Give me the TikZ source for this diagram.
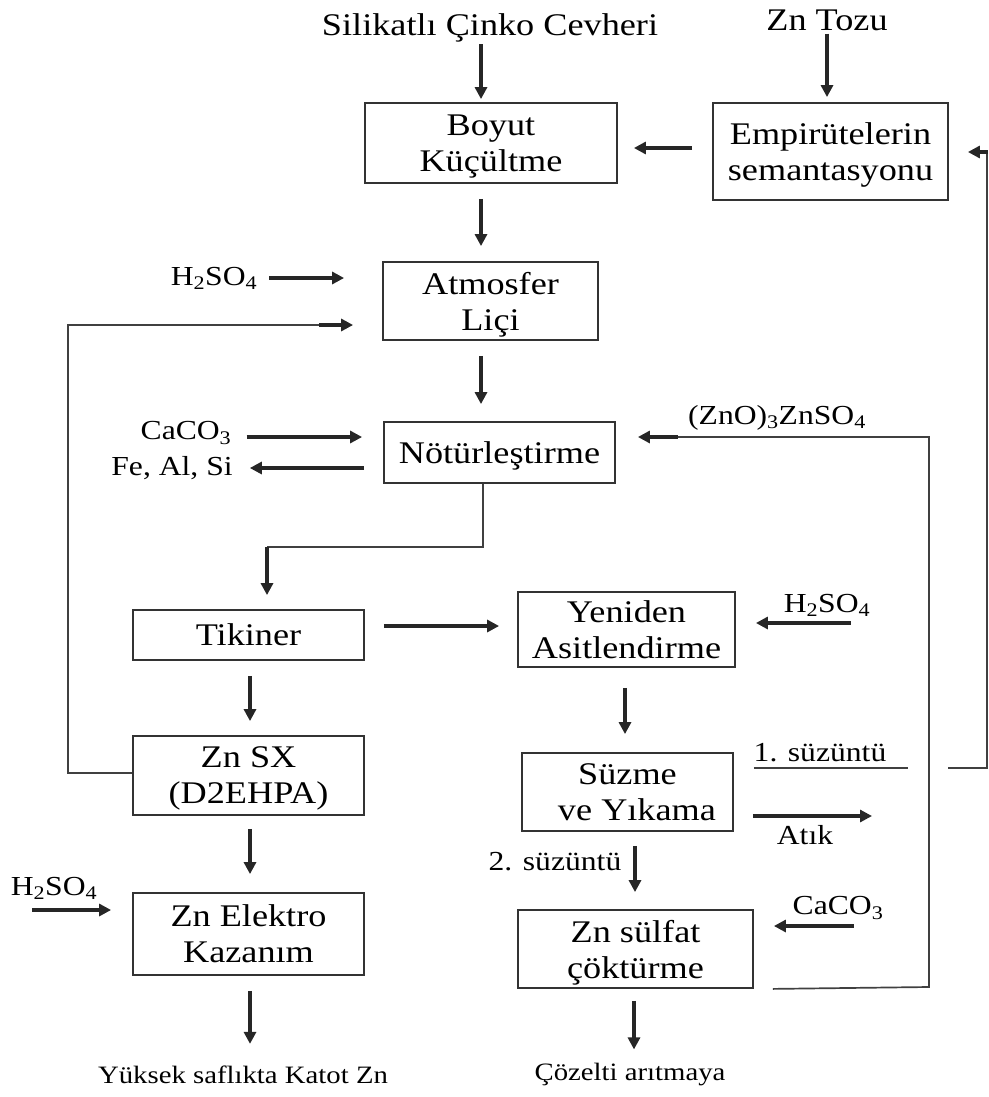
\documentclass[tikz,border=0pt]{standalone}
\usepackage{fontspec}
\setmainfont{Liberation Serif}[FakeStretch=1.15]
\usetikzlibrary{arrows.meta}
\newcommand{\mainsize}{\fontsize{31.5}{36}\selectfont}
\newcommand{\labsize}{\fontsize{27.5}{30}\selectfont}
\newcommand{\outsize}{\fontsize{25}{28}\selectfont}
\begin{document}
\begin{tikzpicture}[x=1pt,y=-1pt,
  box/.style={draw=black!80, line width=1.8pt, align=center, inner sep=0pt, text depth=0pt, font=\mainsize},
  lab/.style={inner sep=0pt, font=\labsize},
  arr/.style={line width=3.6pt, draw=black!85, -{Triangle[length=12pt,width=12pt]}},
  flow/.style={line width=1.7pt, draw=black!75}]
\useasboundingbox (0,0) rectangle (988,1097);

% process boxes
\node[box, minimum width=252pt, minimum height=80pt] (boyut) at (491,143) {Boyut\\Küçültme};
\node[box, minimum width=235pt, minimum height=97pt] (emp) at (830.5,151.5) {Empirütelerin\\semantasyonu};
\node[box, minimum width=215pt, minimum height=78pt] (atm) at (490.5,301) {Atmosfer\\Liçi};
\node[box, minimum width=231pt, minimum height=61pt] (notur) at (499.5,452.5) {Nötürleştirme};
\node[box, minimum width=231pt, minimum height=50pt] (tik) at (248.5,635) {Tikiner};
\node[box, minimum width=217pt, minimum height=75pt] (yen) at (626.5,629.5) {Yeniden\\Asitlendirme};
\node[box, minimum width=231pt, minimum height=79pt] (zsx) at (248.5,775.5) {Zn SX\\(D2EHPA)};
\node[box, minimum width=211pt, minimum height=78pt] (suz) at (627.5,792) {Süzme\\\hspace*{0.6em}ve Yıkama};
\node[box, minimum width=231pt, minimum height=82pt] (ele) at (248.5,934) {Zn Elektro\\Kazanım};
\node[box, minimum width=235pt, minimum height=78pt] (zns) at (635.5,949) {Zn sülfat\\çöktürme};

% feeds, products and stream labels
\node[inner sep=0pt, font=\mainsize] (src1) at (490,28) {Silikatlı Çinko Cevheri};
\node[inner sep=0pt, font=\mainsize] (src2) at (827,20) {Zn Tozu};
\node[lab] (h1) at (214,278) {H\textsubscript{2}SO\textsubscript{4}};
\node[lab] (caco1) at (186,433) {CaCO\textsubscript{3}};
\node[lab] (feal) at (172,468) {Fe, Al, Si};
\node[lab] (zno) at (777,418) {(ZnO)\textsubscript{3}ZnSO\textsubscript{4}};
\node[lab] (h2) at (827,605) {H\textsubscript{2}SO\textsubscript{4}};
\node[lab] (s1) at (820,753) {1. süzüntü};
\node[lab] (atik) at (805,835) {Atık};
\node[lab] (s2) at (555,862) {2. süzüntü};
\node[lab] (caco2) at (838,908) {CaCO\textsubscript{3}};
\node[lab] (h3) at (54,888) {H\textsubscript{2}SO\textsubscript{4}};
\node[inner sep=0pt, font=\outsize] (out1) at (243,1075) {Yüksek saflıkta Katot Zn};
\node[inner sep=0pt, font=\outsize] (out2) at (630,1075) {Çözelti arıtmaya};

% free corners of the recycle lines
\coordinate (rl) at (68,325);
\coordinate (rb) at (929,987);
\coordinate (g1) at (908,768);
\coordinate (g2) at (948,768);
\coordinate (rc) at (987,768);
\coordinate (atikend) at (872,816);
\coordinate (nin) at ([yshift=15.5pt]notur.west);
\coordinate (nout) at ([yshift=-15.5pt]notur.west);

% main flow arrows
\draw[arr, shorten <=2pt, shorten >=3pt] ([xshift=-9pt]src1.south) -- ([xshift=-9pt]src1.south |- boyut.north);
\draw[arr, shorten <=3pt, shorten >=5pt] (src2.south) -- (src2.south |- emp.north);
\draw[arr, shorten <=20pt, shorten >=16pt] ([yshift=3.5pt]emp.west) -- ([yshift=3.5pt]emp.west -| boyut.east);
\draw[arr, shorten <=15pt, shorten >=15pt] ([xshift=-10pt]boyut.south) -- ([xshift=-10pt]boyut.south |- atm.north);
\draw[arr, shorten <=12pt, shorten >=38pt] (h1.east) -- (h1.east -| atm.west);
\draw[arr, shorten <=15pt, shorten >=17pt] ([xshift=-9.5pt]atm.south) -- ([xshift=-9.5pt]atm.south |- notur.north);
\draw[arr, shorten <=15pt, shorten >=21pt] (caco1.east |- nin) -- (nin);
\draw[arr, shorten <=19pt, shorten >=17pt] (nout) -- (feal.east |- nout);
\draw[arr, shorten <=19pt, shorten >=18pt] ([yshift=9pt]tik.east) -- ([yshift=9pt]tik.east -| yen.west);
\draw[arr, shorten >=20pt] ([xshift=115pt,yshift=6.5pt]yen.east) -- ([yshift=6.5pt]yen.east);
\draw[arr, shorten <=15pt, shorten >=14pt] ([xshift=1.5pt]tik.south) -- ([xshift=1.5pt]tik.south |- zsx.north);
\draw[arr, shorten <=20pt, shorten >=18pt] ([xshift=-1.5pt]yen.south) -- ([xshift=-1.5pt]yen.south |- suz.north);
\draw[arr, shorten <=19pt] ([yshift=-24pt]suz.east) -- (atikend);
\draw[arr, shorten <=14pt, shorten >=17pt] ([xshift=7.5pt]suz.south) -- ([xshift=7.5pt]suz.south |- zns.north);
\draw[arr, shorten >=20pt] ([xshift=100pt,yshift=23pt]zns.east) -- ([yshift=23pt]zns.east);
\draw[arr, shorten <=13pt, shorten >=18pt] ([xshift=1.5pt]zsx.south) -- ([xshift=1.5pt]zsx.south |- ele.north);
\draw[arr, shorten >=21pt] ([xshift=-100pt,yshift=24pt]ele.west) -- ([yshift=24pt]ele.west);
\draw[arr, shorten <=15pt, shorten >=22pt] ([xshift=1.5pt]ele.south) -- ([xshift=1.5pt]ele.south |- out1.north);
\draw[arr, shorten <=12pt, shorten >=14pt] ([xshift=-1.5pt]zns.south) -- ([xshift=-1.5pt]zns.south |- out2.north);

% Notur -> Tikiner
\draw[flow] ([xshift=-16.5pt]notur.south) |- ([xshift=18.5pt,yshift=62pt]tik.north);
\draw[arr, shorten >=14pt] ([xshift=18.5pt,yshift=62pt]tik.north) -- ([xshift=18.5pt]tik.north);

% Zn SX raffinate back to leaching
\draw[flow] ([yshift=2.5pt]zsx.west) -| (rl) -- ([xshift=-50pt,yshift=-24pt]atm.west);
\draw[arr, shorten >=29pt] ([xshift=-63pt,yshift=-24pt]atm.west) -- ([yshift=-24pt]atm.west);

% basic zinc sulphate back to neutralisation
\draw[flow] ([xshift=19pt]zns.south east) -- (rb) |- ([xshift=50pt,yshift=15.5pt]notur.east);
\draw[arr, shorten >=22pt] ([xshift=62pt,yshift=15.5pt]notur.east) -- ([yshift=15.5pt]notur.east);

% first filtrate back to cementation
\draw[flow] ([xshift=20pt,yshift=24pt]suz.east) -- (g1);
\draw[flow] (g2) -- (rc) |- ([xshift=30pt,yshift=-0.5pt]emp.east);
\draw[arr, shorten >=19pt] ([xshift=39pt,yshift=-0.5pt]emp.east) -- ([yshift=-0.5pt]emp.east);
\end{tikzpicture}
\end{document}
